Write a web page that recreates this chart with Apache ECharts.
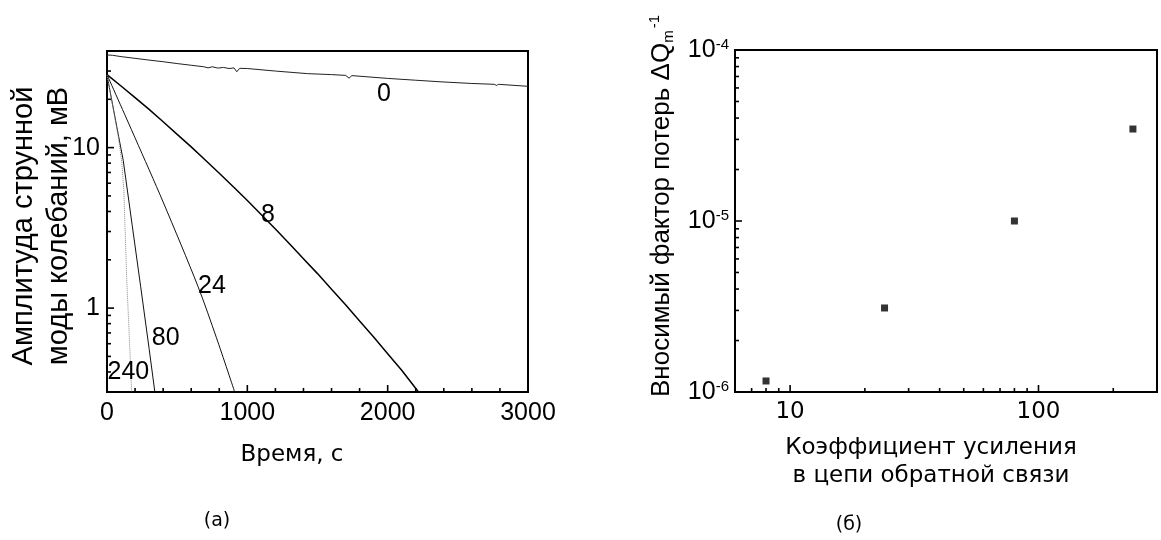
<!DOCTYPE html>
<html>
<head>
<meta charset="utf-8">
<script src="https://cdn.jsdelivr.net/npm/echarts@6/dist/echarts.min.js"></script>
<style>
  html, body { margin: 0; padding: 0; background: #fff; }
  #chart { width: 1161px; height: 540px; }
</style>
</head>
<body>
<div id="chart"></div>
<script>
// ---- Panel (а): amplitude of the string mode vs time, one curve per feedback gain ----
const decayGain0 = [[0,37.8],[40,37.6],[100,36.9],[200,36.0],[300,35.1],[400,34.3],[500,33.4],[600,32.6],
  [690,31.9],[720,31.4],[750,31.9],[790,31.3],[830,31.6],[870,31.1],[905,31.4],[925,29.7],[945,31.2],
  [1000,31.1],[1200,30.0],[1430,28.9],[1600,28.5],[1700,28.2],[1725,27.1],[1745,28.1],[2000,27.0],
  [2200,26.3],[2380,25.7],[2600,25.1],[2760,24.8],[2775,24.4],[2790,24.8],[3000,24.1]];
const decayGain8 = [[0,28.5],[100,24.2],[200,20.5],[300,17.3],[400,14.5],[500,12.1],[600,10.1],[700,8.38],
  [800,6.93],[900,5.70],[1000,4.68],[1100,3.82],[1200,3.11],[1300,2.52],[1400,2.03],[1500,1.64],
  [1600,1.31],[1700,1.05],[1800,0.83],[1900,0.66],[2000,0.52],[2100,0.41],[2220,0.30]];
const decayGain24 = [[0,28.5],[200,11.5],[400,4.58],[649,1.36],[780,0.653],[910,0.30]];
const decayGain80 = [[0,28.3],[40,18.5],[80,12.1],[116,8.3],[180,3.26],[240,1.36],[300,0.56],[341,0.30]];
const decayGain240 = [[0,28.3],[40,18.3],[80,11.8],[105,8.2],[120,5.4],[140,1.56],[163,0.55],[175,0.30]];
// curve captions: [time, amplitude, text]
const curveLabels = [[1973,21.5,'0'],[1147,3.79,'8'],[748,1.38,'24'],[418,0.649,'80'],[152,0.40,'240']];
const timeTicks = [0, 1000, 2000, 3000];
const timeMinorStep = 200;

// ---- Panel (б): introduced loss factor vs feedback gain ----
const gains = [8, 24, 80, 240];
const lossFactor = [1.16e-6, 3.1e-6, 1.0e-5, 3.45e-5];

const ARIAL = "'Liberation Sans', Arial, sans-serif";
const DEJAVU = "'DejaVu Sans', sans-serif";

// minor ticks of a log axis at 2..9 x 10^n strictly inside (lo, hi)
function logMinor(lo, hi) {
  const out = [];
  for (let p = Math.floor(Math.log10(lo)); p <= Math.ceil(Math.log10(hi)); p++) {
    for (let k = 2; k <= 9; k++) {
      const v = k * Math.pow(10, p);
      if (v > lo * 1.0001 && v < hi * 0.9999) out.push(v);
    }
  }
  return out;
}
function logMajor(lo, hi) {
  const out = [];
  for (let p = Math.ceil(Math.log10(lo) - 1e-9); p <= Math.floor(Math.log10(hi) + 1e-9); p++) out.push(Math.pow(10, p));
  return out;
}
const isPow10 = v => Math.abs(Math.log10(v) - Math.round(Math.log10(v))) < 1e-6;

const plain = { show: false };

const chart = echarts.init(document.getElementById('chart'), null, { renderer: 'canvas' });
chart.setOption({
  animation: false,
  backgroundColor: '#fff',
  grid: [
    { left: 107, top: 51, width: 421, height: 341, show: true, borderColor: '#000', borderWidth: 2, backgroundColor: 'transparent' },
    { left: 735, top: 50, width: 422, height: 342, show: true, borderColor: '#000', borderWidth: 2, backgroundColor: 'transparent' }
  ],
  xAxis: [
    { type: 'value', gridIndex: 0, min: timeTicks[0], max: timeTicks[timeTicks.length - 1], interval: 1000,
      axisLine: plain, splitLine: plain, axisTick: plain,
      axisLabel: { color: '#000', fontSize: 25, fontFamily: ARIAL, margin: 9, formatter: v => String(v) } },
    { type: 'log', gridIndex: 1, min: 6, max: 300, logBase: 10,
      axisLine: plain, splitLine: plain, axisTick: plain,
      axisLabel: { color: '#000', fontSize: 23, fontFamily: DEJAVU, margin: 9,
        formatter: v => isPow10(v) ? String(Math.round(v)) : '' } }
  ],
  yAxis: [
    { type: 'log', gridIndex: 0, min: 0.3, max: 40, logBase: 10,
      axisLine: plain, splitLine: plain, axisTick: plain,
      axisLabel: { color: '#000', fontSize: 25, fontFamily: ARIAL, margin: 7,
        formatter: v => isPow10(v) ? String(Math.round(v)) : '' } },
    { type: 'log', gridIndex: 1, min: 1e-6, max: 1e-4, logBase: 10,
      axisLine: plain, splitLine: plain, axisTick: plain,
      axisLabel: { color: '#000', margin: 6,
        formatter: v => isPow10(v) ? '{b|10}{s|' + Math.round(Math.log10(v)) + '}' : '',
        rich: {
          b: { fontSize: 25, fontFamily: ARIAL, color: '#000', lineHeight: 25, verticalAlign: 'middle' },
          s: { fontSize: 15, fontFamily: ARIAL, color: '#000', lineHeight: 15, verticalAlign: 'top' }
        } } }
  ],
  series: [
    { type: 'line', name: '0', xAxisIndex: 0, yAxisIndex: 0, data: decayGain0, showSymbol: false,
      lineStyle: { color: '#222', width: 1 } },
    { type: 'line', name: '8', xAxisIndex: 0, yAxisIndex: 0, data: decayGain8, showSymbol: false,
      lineStyle: { color: '#000', width: 1.5 } },
    { type: 'line', name: '24', xAxisIndex: 0, yAxisIndex: 0, data: decayGain24, showSymbol: false, smooth: 0.3,
      lineStyle: { color: '#111', width: 1 } },
    { type: 'line', name: '80', xAxisIndex: 0, yAxisIndex: 0, data: decayGain80, showSymbol: false,
      lineStyle: { color: '#111', width: 1 } },
    { type: 'line', name: '240', xAxisIndex: 0, yAxisIndex: 0, data: decayGain240, showSymbol: false,
      lineStyle: { color: '#888', width: 1, type: [1, 1] } },
    { type: 'scatter', xAxisIndex: 1, yAxisIndex: 1, data: gains.map((g, i) => [g, lossFactor[i]]),
      symbol: 'rect', symbolSize: 7, itemStyle: { color: '#000' } }
  ]
});

// ---- ticks (inward), curve captions and titles, placed through the axes' own scales ----
const g = [];
const tickLine = (x1, y1, x2, y2) => g.push({ type: 'line', silent: true, z: 10,
  shape: { x1, y1, x2, y2 }, style: { stroke: '#000', lineWidth: 1.6 } });
const at = (i, x, y) => chart.convertToPixel({ xAxisIndex: i, yAxisIndex: i }, [x, y]);

// panel (а)
const xMinorA = [];
for (let t = timeTicks[0] + timeMinorStep; t < timeTicks[timeTicks.length - 1]; t += timeMinorStep) {
  if (t % 1000 !== 0) xMinorA.push(t);
}
timeTicks.slice(1, -1).forEach(t => { const p = at(0, t, 0.3); tickLine(p[0], p[1], p[0], p[1] - 7); });
xMinorA.forEach(t => { const p = at(0, t, 0.3); tickLine(p[0], p[1], p[0], p[1] - 4); });
logMajor(0.3, 40).forEach(v => { const p = at(0, 0, v); tickLine(p[0], p[1], p[0] + 7, p[1]); });
logMinor(0.3, 40).forEach(v => { const p = at(0, 0, v); tickLine(p[0], p[1], p[0] + 4, p[1]); });
curveLabels.forEach(c => {
  const p = at(0, c[0], c[1]);
  g.push({ type: 'text', x: p[0], y: p[1], z: 10, silent: true,
    style: { text: c[2], font: '25px ' + ARIAL, fill: '#000', align: 'center', verticalAlign: 'middle' } });
});

// panel (б)
logMajor(6, 300).forEach(v => { const p = at(1, v, 1e-6); tickLine(p[0], p[1], p[0], p[1] - 7); });
logMinor(6, 300).forEach(v => { const p = at(1, v, 1e-6); tickLine(p[0], p[1], p[0], p[1] - 4); });
logMajor(1e-6, 1e-4).forEach(v => { const p = at(1, 6, v); tickLine(p[0], p[1], p[0] + 7, p[1]); });
logMinor(1e-6, 1e-4).forEach(v => { const p = at(1, 6, v); tickLine(p[0], p[1], p[0] + 4, p[1]); });

g.push(
  { type: 'text', x: 41, y: 226, rotation: Math.PI / 2,
    style: { text: 'Амплитуда струнной\nмоды колебаний, мВ', font: '29px ' + ARIAL, lineHeight: 35,
             fill: '#000', align: 'center', verticalAlign: 'middle' } },
  { type: 'text', x: 292, y: 455,
    style: { text: 'Время, с', font: '23px ' + DEJAVU, fill: '#000', align: 'center', verticalAlign: 'middle' } },
  { type: 'text', x: 217, y: 521,
    style: { text: '(а)', font: '19px ' + DEJAVU, fill: '#000', align: 'center', verticalAlign: 'middle' } },
  { type: 'text', x: 662, y: 397, rotation: Math.PI / 2,
    style: { text: '{a|Вносимый фактор потерь ΔQ}{m|m}{e|-1}', align: 'left', verticalAlign: 'middle',
             rich: {
               a: { font: '26px ' + ARIAL, fill: '#000', lineHeight: 26, verticalAlign: 'middle' },
               m: { font: '15px ' + ARIAL, fill: '#000', lineHeight: 15, verticalAlign: 'middle', padding: [14, 0, 0, 0] },
               e: { font: '15px ' + ARIAL, fill: '#000', lineHeight: 15, verticalAlign: 'middle', padding: [0, 0, 14, 2] }
             } } },
  { type: 'text', x: 931, y: 462,
    style: { text: 'Коэффициент усиления\nв цепи обратной связи', font: '23px ' + DEJAVU, lineHeight: 28,
             fill: '#000', align: 'center', verticalAlign: 'middle' } },
  { type: 'text', x: 849, y: 525,
    style: { text: '(б)', font: '19px ' + DEJAVU, fill: '#000', align: 'center', verticalAlign: 'middle' } }
);
chart.setOption({ graphic: g });
</script>
</body>
</html>
